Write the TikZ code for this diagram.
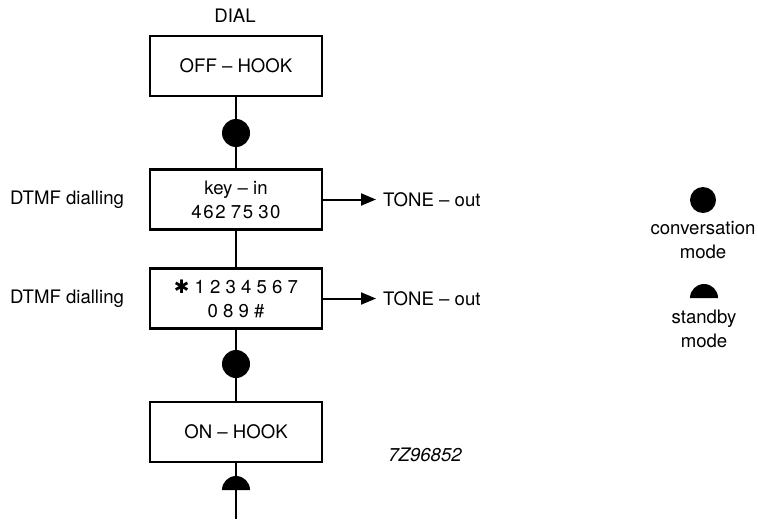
\documentclass[tikz,border=0pt]{standalone}
\usepackage{fontspec}
\setmainfont{TeX Gyre Heros}
\newfontfamily\symfont{DejaVu Sans}
\usetikzlibrary{arrows.meta,positioning,shapes.geometric}

\begin{document}
\begin{tikzpicture}[x=0.5pt,y=-0.5pt,
    font=\fontsize{9.3}{12}\selectfont,
    box/.style={draw, line width=1.4pt, minimum width=86pt, minimum height=30pt,
                inner sep=0pt, align=center},
    conv/.style={circle, fill=black, minimum size=14pt, inner sep=0pt},
    stby/.style={semicircle, fill=black, minimum width=14pt, minimum height=7pt,
                 inner sep=0pt, outer sep=0pt},
    link/.style={line width=1.4pt},
    tone/.style={line width=1pt, -{Triangle[length=7.5pt,width=6pt]}}]
    \useasboundingbox (0,0) rectangle (758,519);

    % Main column
    \node (dial) at (235,16) {DIAL};
    \node[box] (off) at (236,66) {OFF -- HOOK};
    \node[conv] (dot1) at (236,133) {};
    \node[box] (keyin) at (236,199.5)
      {key -- in\\4\kern.8pt6\kern.8pt2\;7\kern.8pt5\;3\kern.8pt0};
    \node[box] (digits) at (236,298.5)
      {{\symfont ✱} 1 2 3 4 5 6 7\\0 8 9 \#};
    \node[conv] (dot2) at (236,364) {};
    \node[box] (on) at (236,432) {ON -- HOOK};
    \node[stby, anchor=chord center] (half) at (236,490) {};
    \coordinate (tail) at (236,519);

    \draw[link] (off) -- (dot1) -- (keyin) -- (digits) -- (dot2) -- (on) -- (half);
    \draw[link] (half.chord center) -- (tail);

    % Side labels
    \node[anchor=east] (dtmf1) at (131,199.5) {DTMF dialling};
    \node[anchor=east] (dtmf2) at (131,298.5) {DTMF dialling};
    \node[anchor=west] (tone1) at (376,199.5) {TONE -- out};
    \node[anchor=west] (tone2) at (376,298.5) {TONE -- out};
    \draw[tone] (keyin.east) -- (tone1.west);
    \draw[tone] (digits.east) -- (tone2.west);

    % Figure code
    \node[font=\fontsize{9.3}{12}\selectfont\itshape] (code) at (425,455) {7Z96852};

    % Legend
    \node[conv, minimum size=13pt] (convkey) at (703,200) {};
    \node[align=center] (convtxt) at (703,240) {conversation\\mode};
    \node[stby, anchor=chord center] (stbykey) at (704,298) {};
    \node[align=center] (stbytxt) at (704,329) {standby\\mode};
\end{tikzpicture}
\end{document}
